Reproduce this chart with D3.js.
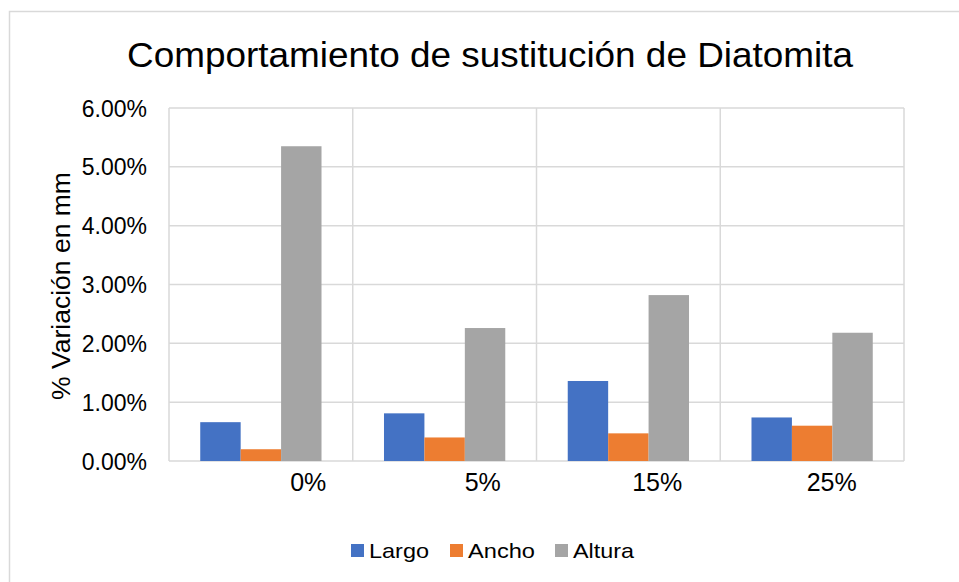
<!DOCTYPE html>
<html lang="es">
    <head>
        <meta charset="utf-8">
        <title>Comportamiento de sustitución de Diatomita</title>
        <script src="https://d3js.org/d3.v7.min.js"></script>
        <style type="text/css">
            body{
                margin: 0;
                background: #fff;
            }
            svg{
                display: block;
                font-family: "Liberation Sans", Arial, sans-serif;
            }
        </style>
    </head>
    <body>
        <svg width="959" height="582"></svg>
        <script type="text/javascript">

            // data
            const categories = ["0%", "5%", "15%", "25%"];
            const seriesNames = ["Largo", "Ancho", "Altura"];
            const largo  = [0.66, 0.81, 1.36, 0.74];
            const ancho  = [0.20, 0.40, 0.47, 0.60];
            const altura = [5.35, 2.26, 2.82, 2.18];
            const yTicks = [0, 1, 2, 3, 4, 5, 6];

            const seriesValues = [largo, ancho, altura];
            const colors = ["#4472C4", "#ED7D31", "#A5A5A5"];

            const rows = categories.map((c, i) => {
                return {"cat": c, "vals": seriesNames.map((s, j) => ({"name": s, "value": seriesValues[j][i]}))};
            });

            const svg = d3.select("svg");
            const margin = {top: 108, left: 169, right: 55, bottom: 121};
            const width = 959 - margin.left - margin.right;
            const height = 582 - margin.top - margin.bottom;

            // chart border
            svg.append("rect")
                .attr("x", 9.5).attr("y", 11.5)
                .attr("width", 1000).attr("height", 600)
                .style("fill", "none")
                .style("stroke", "#d9d9d9")
                .style("stroke-width", 1.5);

            svg.append("text")
                .attr("x", 490).attr("y", 67)
                .attr("text-anchor", "middle")
                .attr("font-size", 35)
                .attr("textLength", 726)
                .attr("lengthAdjust", "spacingAndGlyphs")
                .text("Comportamiento de sustitución de Diatomita");

            const g = svg.append("g").attr("transform", `translate(${margin.left},${margin.top})`);

            const x0 = d3.scaleBand().domain(categories).range([0, width]).padding(0);
            const x1 = d3.scaleBand().domain(seriesNames)
                        .range([x0.bandwidth() * 0.17, x0.bandwidth() * 0.83]);
            // Excel places the category labels on their own, slightly narrower, spacing
            const xLabel = d3.scaleBand().domain(categories).range([52, width + 15]);
            const y = d3.scaleLinear().domain([0, 6]).range([height, 0]);

            // horizontal gridlines
            g.selectAll("line.hgrid")
                .data(yTicks)
                .join("line")
                .attr("class", "hgrid")
                .attr("x1", 0).attr("x2", width)
                .attr("y1", d => y(d)).attr("y2", d => y(d))
                .style("stroke", "#d9d9d9")
                .style("stroke-width", 1.5);

            // vertical gridlines at category boundaries
            const bounds = categories.map(c => x0(c)).concat([width]);
            g.selectAll("line.vgrid")
                .data(bounds)
                .join("line")
                .attr("class", "vgrid")
                .attr("x1", d => d).attr("x2", d => d)
                .attr("y1", 0).attr("y2", height)
                .style("stroke", "#d9d9d9")
                .style("stroke-width", 1.5);

            // bars
            const groups = g.selectAll("g.grp")
                            .data(rows)
                            .join("g")
                            .attr("class", "grp")
                            .attr("transform", d => `translate(${x0(d.cat)},0)`);

            groups.selectAll("rect")
                .data(d => d.vals)
                .join("rect")
                .attr("x", d => x1(d.name))
                .attr("width", x1.bandwidth())
                .attr("y", d => y(d.value))
                .attr("height", d => height - y(d.value))
                .style("fill", (d, i) => colors[i]);

            // y axis
            const yAxis = g.append("g")
                            .call(d3.axisLeft(y).tickValues(yTicks)
                                .tickFormat(d => d.toFixed(2) + "%")
                                .tickSize(0).tickPadding(22));
            yAxis.select(".domain").remove();
            yAxis.selectAll("text")
                .attr("font-size", 23)
                .attr("font-family", "Liberation Sans, Arial, sans-serif")
                .attr("fill", "#000")
                .attr("dy", "0.35em");

            // x labels
            g.append("g")
                .selectAll("text")
                .data(categories)
                .join("text")
                .attr("x", d => xLabel(d) + xLabel.bandwidth() / 2)
                .attr("y", height + 30)
                .attr("text-anchor", "middle")
                .attr("font-size", 25)
                .text(d => d);

            // y axis title
            svg.append("text")
                .attr("transform", "translate(70,286) rotate(-90)")
                .attr("text-anchor", "middle")
                .attr("font-size", 26.5)
                .text("% Variación en mm");

            // legend
            const legendX = [351, 450, 555];
            const legend = svg.selectAll("g.leg")
                            .data(seriesNames)
                            .join("g")
                            .attr("class", "leg")
                            .attr("transform", (d, i) => `translate(${legendX[i]},544)`);
            legend.append("rect")
                .attr("width", 13).attr("height", 13)
                .style("fill", (d, i) => colors[i]);
            legend.append("text")
                .attr("x", 18).attr("y", 14)
                .attr("font-size", 21)
                .attr("textLength", (d) => d === "Largo" ? 60 : d === "Ancho" ? 67 : 61)
                .attr("lengthAdjust", "spacingAndGlyphs")
                .text(d => d);

        </script>
    </body>
</html>
